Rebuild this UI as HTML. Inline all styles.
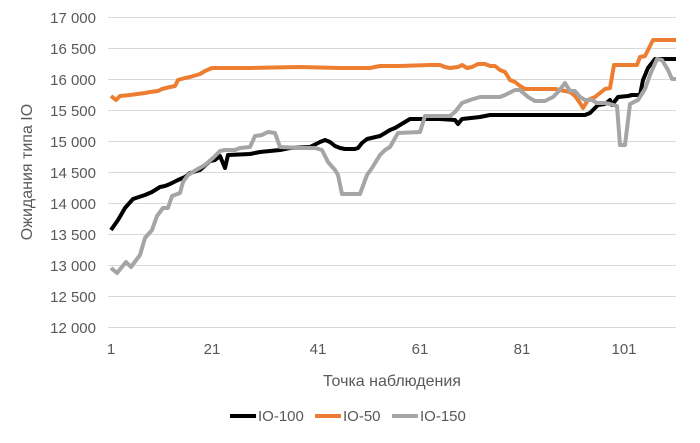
<!DOCTYPE html>
<html><head><meta charset="utf-8"><style>
body{margin:0;background:#fff;}
svg text{font-family:"Liberation Sans",sans-serif;fill:#595959;}
</style></head><body>
<svg width="700" height="438" viewBox="0 0 700 438" xmlns="http://www.w3.org/2000/svg">
<g stroke="#d9d9d9" stroke-width="1">
<line x1="108" x2="676" y1="17.5" y2="17.5"/><line x1="108" x2="676" y1="48.5" y2="48.5"/><line x1="108" x2="676" y1="79.5" y2="79.5"/><line x1="108" x2="676" y1="110.5" y2="110.5"/><line x1="108" x2="676" y1="141.5" y2="141.5"/><line x1="108" x2="676" y1="172.5" y2="172.5"/><line x1="108" x2="676" y1="203.5" y2="203.5"/><line x1="108" x2="676" y1="234.5" y2="234.5"/><line x1="108" x2="676" y1="265.5" y2="265.5"/><line x1="108" x2="676" y1="296.5" y2="296.5"/><line x1="108" x2="676" y1="327.5" y2="327.5"/>
</g>
<g font-size="15" text-anchor="end">
<text x="96" y="23">17 000</text><text x="96" y="54">16 500</text><text x="96" y="85">16 000</text><text x="96" y="116">15 500</text><text x="96" y="147">15 000</text><text x="96" y="178">14 500</text><text x="96" y="209">14 000</text><text x="96" y="240">13 500</text><text x="96" y="271">13 000</text><text x="96" y="302">12 500</text><text x="96" y="333">12 000</text>
</g>
<g font-size="15" text-anchor="middle">
<text x="111" y="354">1</text><text x="212" y="354">21</text><text x="318" y="354">41</text><text x="420" y="354">61</text><text x="522" y="354">81</text><text x="624" y="354">101</text>
<text x="392" y="386" font-size="16">Точка наблюдения</text>
</g>
<text transform="translate(32,172) rotate(-90)" font-size="16" text-anchor="middle">Ожидания типа IO</text>
<g fill="none" stroke-width="4" stroke-linejoin="round">
<polyline stroke="#ed7d31" points="111,96 116,100 120,96 130,95 145,93 150,92 158,91 162,89 170,87 175,86 178,80 185,78 190,77 200,74 205,71 212,68 250,68 300,67 340,68 370,68 380,66 400,66 430,65 440,65 445,67 450,68 458,67 462,65 467,68 472,67 478,64 485,64 490,66 495,66 500,70 505,72 510,80 515,82 520,86 525,89 540,89 555,89 560,90 570,92 575,96 580,103 583,108 588,100 595,97 600,93 605,89 610,88 614,65 637,65 640,57 645,56 650,46 653,40 676,40"/>
<polyline stroke="#000" points="111,230 118,220 125,208 133,199 145,195 152,192 160,187 165,186 170,184 178,180 185,177 190,173 200,170 210,161 215,160 220,156 225,168 228,155 250,154 260,152 280,150 290,148 310,147 320,142 325,140 330,142 335,146 340,148 345,149 355,149 358,148 362,143 367,139 380,136 390,130 395,128 410,119 440,119 455,120 458,124 462,119 480,117 490,115 520,115 560,115 585,115 590,113 598,105 605,104 610,100 612,105 618,97 628,96 632,95 640,95 643,80 648,68 655,59 676,59"/>
<polyline stroke="#a5a5a5" points="111,268 117,273 126,262 131,267 140,255 145,238 152,230 157,216 163,208 168,208 172,196 180,193 183,182 188,175 196,170 205,165 213,158 220,151 225,150 235,150 240,148 250,147 255,136 262,135 268,132 275,133 280,147 300,148 315,148 322,150 328,162 335,170 338,175 342,194 360,194 367,175 372,168 380,155 385,150 390,147 398,133 420,132 425,116 450,116 455,112 462,103 470,100 480,97 500,97 505,95 515,90 520,90 528,97 535,101 545,101 553,97 558,92 565,83 570,91 575,91 580,97 585,100 592,100 597,103 605,103 610,104 617,106 620,145 625,145 630,104 638,100 645,89 650,75 657,59 662,60 668,70 672,79 676,79"/>
</g>
<g font-size="15">
<line x1="230" x2="256" y1="416" y2="416" stroke="#000" stroke-width="4"/><text x="258" y="421">IO-100</text>
<line x1="315" x2="341" y1="416" y2="416" stroke="#ed7d31" stroke-width="4"/><text x="343" y="421">IO-50</text>
<line x1="392" x2="418" y1="416" y2="416" stroke="#a5a5a5" stroke-width="4"/><text x="420" y="421">IO-150</text>
</g>
</svg>
</body></html>
